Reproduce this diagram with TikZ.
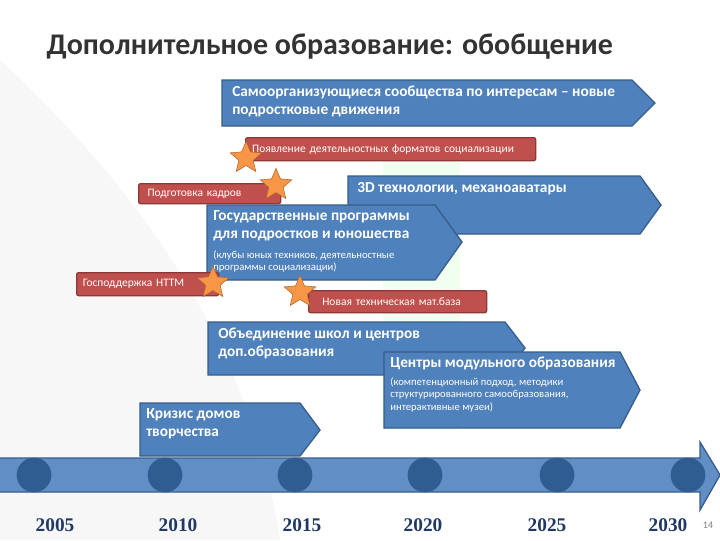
\documentclass[tikz,border=0pt]{standalone}
\usepackage{fontspec}
\setmainfont{Carlito}
\newfontfamily\yearfont{Liberation Serif}
\usetikzlibrary{shapes.geometric}
\definecolor{bfill}{HTML}{4F81BD}
\definecolor{bline}{HTML}{385D8A}
\definecolor{rfill}{HTML}{C0504D}
\definecolor{rline}{HTML}{8C3836}
\definecolor{sfill}{HTML}{F79646}
\definecolor{dot}{HTML}{2F5C91}
\definecolor{yr}{HTML}{1F3864}
\tikzset{
 barrow/.style={fill=bfill,draw=bline,line width=1pt},
 btext/.style={anchor=north west,align=left,text=white,font=\bfseries\fontsize{11.5}{13.5}\selectfont,inner sep=0pt},
 stext/.style={anchor=north west,align=left,text=white,font=\fontsize{8}{9.5}\selectfont,inner sep=0pt},
 rbox/.style={fill=rfill,draw=rline,line width=1pt,rounded corners=1.5pt,anchor=north west,text=white,font=\fontsize{8.6}{10}\selectfont,inner sep=0pt,align=left},
 starx/.style={star,star points=5,star point ratio=2.2,fill=sfill,draw=sfill!70!black,minimum size=25,inner sep=0pt},
 year/.style={font=\yearfont\bfseries\fontsize{14.5}{16}\selectfont,text=yr},
 tdot/.style={circle,fill=dot,minimum width=24,minimum height=26,inner sep=0pt}
}
\begin{document}
\begin{tikzpicture}[x=0.75pt,y=-0.75pt]
\useasboundingbox (0,0) rectangle (720,540);
\fill[white] (0,0) rectangle (720,540);
\fill[gray!6] (0,60) .. controls (150,200) and (250,350) .. (280,540) -- (0,540) -- cycle;
\fill[green!6!white] (383,140) rectangle (460,430);
\node[anchor=west,font=\bfseries\fontsize{22.5}{24}\selectfont,text=black!80] (title) at (42,47) {Дополнительное образование: обобщение};
% arrow 1
\draw[barrow] (222,80) -- (632,80) -- (655,103) -- (632,126) -- (222,126) -- cycle;
\node[btext] (a1) at (232,86) {Самоорганизующиеся сообщества по интересам – новые\\подростковые движения};
% red 1
\node[rbox,minimum width=290*0.75pt,minimum height=23*0.75pt,text width=285*0.75pt] (r1) at (245,137) {\hspace{3pt}Появление деятельностных форматов социализации};
\node[starx] (s1) at (246,158) {};
% 3D arrow
\draw[barrow] (348,176) -- (640,176) -- (661,205) -- (640,234) -- (348,234) -- cycle;
\node[btext] (a2) at (357,182) {3D технологии, механоаватары};
% red 2
\node[rbox,minimum width=142*0.75pt,minimum height=20*0.75pt,text width=135*0.75pt] (r2) at (138,183) {\hspace{4pt}Подготовка кадров};
\node[starx] (s2) at (276,185) {};
% Gos arrow
\draw[barrow] (207,205) -- (435,205) -- (462,242) -- (435,280) -- (207,280) -- cycle;
\node[btext] (a3) at (213,210) {Государственные программы\\для подростков и юношества};
\node[stext] (a3s) at (213,250) {(клубы юных техников, деятельностные\\программы социализации)};
% red 3
\node[rbox,minimum width=142*0.75pt,minimum height=23*0.75pt,text width=135*0.75pt] (r3) at (76,272) {\hspace{2pt}Господдержка НТТМ};
\node[starx] (s3) at (213,283) {};
% red 4
\node[rbox,minimum width=178*0.75pt,minimum height=22*0.75pt,text width=172*0.75pt] (r4) at (308,290) {\hspace{8pt}Новая техническая мат.база};
\node[starx] (s4) at (300,292) {};
% Ob arrow
\draw[barrow] (208,322) -- (505,322) -- (525,348) -- (505,375) -- (208,375) -- cycle;
\node[btext] (a4) at (218,328) {Объединение школ и центров\\доп.образования};
% Centry arrow
\draw[barrow] (384,352) -- (620,352) -- (640,390) -- (620,428) -- (384,428) -- cycle;
\node[btext] (a5) at (390,357) {Центры модульного образования};
\node[stext] (a5s) at (390,377) {(компетенционный подход, методики\\структурированного самообразования,\\интерактивные музеи)};
% Krizis arrow
\draw[barrow] (140,403) -- (300,403) -- (320,430) -- (300,456) -- (140,456) -- cycle;
\node[btext] (a6) at (146,408) {Кризис домов\\творчества};
% timeline
\draw[barrow,fill=bfill!90!white] (-2,458) -- (700,458) -- (700,442) -- (720,475) -- (700,510) -- (700,492) -- (-2,492) -- cycle;
\foreach \x [count=\i] in {34,165,295,425,557,688} \node[tdot] (d\i) at (\x,475) {};
\foreach \x/\y [count=\i] in {55/2005,178/2010,302/2015,423/2020,547/2025,668/2030} \node[year] (y\i) at (\x,525) {\y};
\node[font=\fontsize{7.5}{9}\selectfont,text=gray] (pg) at (708,525) {14};
\end{tikzpicture}
\end{document}
